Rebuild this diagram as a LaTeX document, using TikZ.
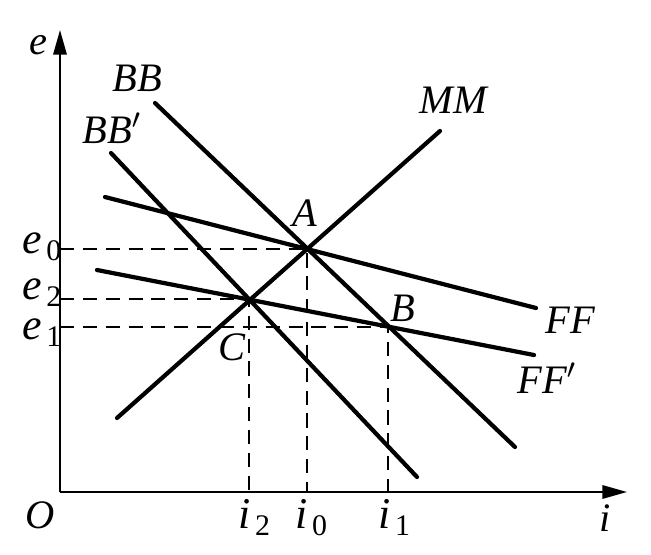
\documentclass[tikz,border=0pt]{standalone}
\usepackage{fontspec}
\setmainfont{Liberation Serif}
\usetikzlibrary{arrows.meta}
% lowered upright index after an italic letter
\newcommand{\idx}[1]{\kern1.2pt\raisebox{-2pt}{\fontsize{8.5}{9}\selectfont\upshape #1}}

\begin{document}
\begin{tikzpicture}[x=0.01cm,y=-0.01cm,
    curve/.style={line width=1.2pt, line cap=round},
    guide/.style={line width=0.5pt, dash pattern=on 4pt off 2.5pt},
    axis/.style={line width=0.6pt, -{Triangle[length=7pt,width=3.8pt]}},
    lbl/.style={font=\fontsize{11.5}{13}\selectfont\itshape, inner sep=0pt},
    tick/.style={font=\fontsize{12.5}{13}\selectfont\itshape, inner sep=0pt,
      text height=5pt, text depth=0pt, anchor=base west}]
    % Frame of the picture (pixels of the reference, y downwards)
    \useasboundingbox (0,0) rectangle (651,554);

    % Axes
    \coordinate (O) at (60,492);
    \coordinate (etip) at (60,30);
    \coordinate (itip) at (627,492);
    \draw[axis] (O) -- (etip);
    \draw[axis] (O) -- (itip);

    % Equilibrium points
    \coordinate (A) at (307,249);
    \coordinate (B) at (388,327);
    \coordinate (C) at (249,299);

    % End points of the schedules
    \coordinate (BBs) at (155,103);  \coordinate (BBe) at (515,447);
    \coordinate (BBps) at (111,153); \coordinate (BBpe) at (417,477);
    \coordinate (MMs) at (117,418);  \coordinate (MMe) at (440,131);
    \coordinate (FFs) at (105,197);  \coordinate (FFe) at (536,308);
    \coordinate (FFps) at (97,270);  \coordinate (FFpe) at (534,355);

    % Dashed guides to the axes
    \draw[guide] (A -| O) -- (A) -- (A |- O);
    \draw[guide] (C -| O) -- (C) -- (C |- O);
    \draw[guide] (B -| O) -- (B) -- (B |- O);

    % Schedules
    \draw[curve] (BBs) -- (BBe);
    \draw[curve] (BBps) -- (BBpe);
    \draw[curve] (MMs) -- (MMe);
    \draw[curve] (FFs) -- (FFe);
    \draw[curve] (FFps) -- (FFpe);

    % Labels
    \node[lbl] (lblBB) at (137,78) {BB};
    \node[lbl] (lblBBp) at (112,128) {BB$'$};
    \node[lbl] (lblMM) at (453,100) {MM};
    \node[lbl] (lblFF) at (570,320) {FF};
    \node[lbl] (lblFFp) at (547,378) {FF$'$};
    \node[lbl] (lblA) at (305,213) {A};
    \node[lbl] (lblB) at (403,308) {B};
    \node[lbl] (lblC) at (232,347) {C};
    \node[lbl] (lble) at (38,45) {e};
    \node[lbl] (lblO) at (40,515) {O};
    \node[lbl] (lbli) at (605,518) {i};
    \node[tick] (lble0) at (22,253) {e\idx{0}};
    \node[tick] (lble2) at (22,299) {e\idx{2}};
    \node[tick] (lble1) at (22,339) {e\idx{1}};
    \node[tick] (lbli2) at (238,528) {i\idx{2}};
    \node[tick] (lbli0) at (295,528) {i\idx{0}};
    \node[tick] (lbli1) at (378,528) {i\idx{1}};
\end{tikzpicture}
\end{document}
